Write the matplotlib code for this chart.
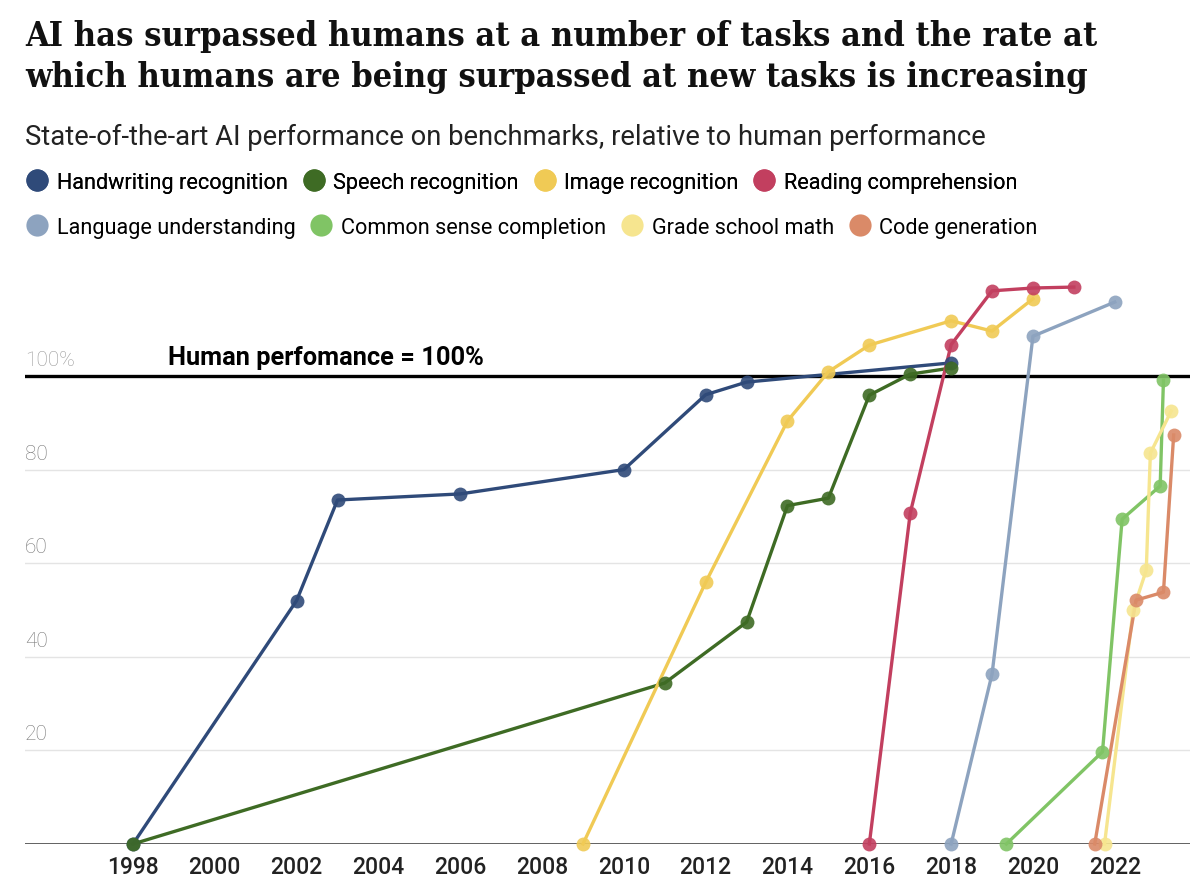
import matplotlib
matplotlib.use("Agg")
import matplotlib.pyplot as plt
from matplotlib.lines import Line2D
from matplotlib.transforms import blended_transform_factory, offset_copy

plt.rcParams['font.family'] = ['Roboto', 'DejaVu Sans']

# datos (anio, % relativo a humano)
nombres = ["Handwriting recognition", "Speech recognition", "Image recognition",
           "Reading comprehension", "Language understanding", "Common sense completion",
           "Grade school math", "Code generation"]
colores = ["#2f4a79", "#3e6b24", "#f0ca55", "#c23f5f",
           "#8da3bf", "#80c465", "#f6e58f", "#da8a68"]

hand_x = [1998, 2002, 2003, 2006, 2010, 2012, 2013, 2018]
hand_y = [0, 52.0, 73.5, 74.8, 80.0, 96.0, 98.7, 102.8]

speech_x = [1998, 2011, 2013, 2014, 2015, 2016, 2017, 2018]
speech_y = [0, 34.4, 47.4, 72.3, 73.9, 95.9, 100.4, 101.7]

image_x = [2009, 2012, 2014, 2015, 2016, 2018, 2019, 2020]
image_y = [0, 55.9, 90.4, 100.9, 106.6, 111.8, 109.6, 116.5]

reading_x = [2016, 2017, 2018, 2019, 2020, 2021]
reading_y = [0, 70.7, 106.7, 118.2, 118.8, 119.0]

lang_x = [2018, 2019, 2020, 2022]
lang_y = [0, 36.3, 108.5, 115.8]

common_x = [2019.35, 2021.7, 2022.18, 2023.11, 2023.19]
common_y = [0, 19.7, 69.4, 76.5, 99.1]

math_x = [2021.75, 2022.45, 2022.77, 2022.87, 2023.38]
math_y = [0, 50.0, 58.5, 83.5, 92.5]

code_x = [2021.51, 2022.52, 2023.19, 2023.44]
code_y = [0, 52.1, 53.8, 87.4]

series = [(hand_x, hand_y), (speech_x, speech_y), (image_x, image_y),
          (reading_x, reading_y), (lang_x, lang_y), (common_x, common_y),
          (math_x, math_y), (code_x, code_y)]

years = list(range(1998, 2023, 2))
grid_vals = [20, 40, 60, 80]
human = 100

fig = plt.figure(figsize=(12, 8.95), dpi=100)
ax = fig.add_axes([0.0208, 0.0559, 0.9709, 0.6536])

ax.set_xlim(1995.36, 2023.84)
ax.set_ylim(0, 125)

for g in grid_vals:
    ax.axhline(g, color="#e4e4e4", lw=1.0, zorder=1)
ax.axhline(0, color="#333333", lw=1.8, zorder=2)
ax.axhline(human, color="black", lw=2.4, zorder=2)

# etiquetas del eje y encima de las lineas
trans = blended_transform_factory(ax.transAxes, ax.transData)
trans_up = offset_copy(trans, fig=fig, x=0, y=5, units='points')
for g in grid_vals:
    ax.text(0, g, str(g), transform=trans_up, ha="left", va="bottom",
            fontsize=15, color="#777777", fontweight="light")
ax.text(0, human, "100%", transform=trans_up, ha="left", va="bottom",
        fontsize=15, color="#999999", fontweight="light")
ax.text(1998.85, human, "Human perfomance = 100%",
        transform=offset_copy(ax.transData, fig=fig, x=0, y=5, units='points'),
        ha="left", va="bottom", fontsize=18.3, fontweight="bold", color="black")

for (xs, ys), c in zip(series, colores):
    ax.plot(xs, ys, color=c, lw=2.4, zorder=3, clip_on=False)
    ax.plot(xs, ys, "o", color=c, ms=10, alpha=0.9, zorder=4, clip_on=False,
            markeredgewidth=0)

ax.set_xticks(years)
ax.set_xticklabels([str(y) for y in years], fontsize=16.5, color="#222222",
                   fontweight="medium")
ax.tick_params(axis="x", length=0, pad=8)
ax.set_yticks([])
for s in ax.spines.values():
    s.set_visible(False)

# titulo y subtitulo
fig.text(0.021, 0.978, "AI has surpassed humans at a number of tasks and the rate at\n"
         "which humans are being surpassed at new tasks is increasing",
         family="DejaVu Serif", fontweight="bold", fontstretch="condensed",
         fontsize=24.6, color="#111111", ha="left", va="top", linespacing=1.33)
fig.text(0.021, 0.8385, "State-of-the-art AI performance on benchmarks, relative to human performance",
         fontsize=19.7, color="#222222", ha="left", va="baseline")

# leyenda en dos filas
handles = [Line2D([], [], marker="o", ls="none", color=c, ms=16, markeredgewidth=0)
           for c in colores]
kw = dict(loc="center left", ncol=4, frameon=False, fontsize=15.6,
          handlelength=1.0, handletextpad=0.4, columnspacing=0.7,
          borderpad=0, borderaxespad=0)
leg1 = fig.legend(handles[:4], nombres[:4], bbox_to_anchor=(0.022, 0.795), **kw)
leg2 = fig.legend(handles[4:], nombres[4:], bbox_to_anchor=(0.022, 0.745), **kw)
fig.add_artist(leg1)

fig.savefig("out.png", dpi=100, facecolor="white")
